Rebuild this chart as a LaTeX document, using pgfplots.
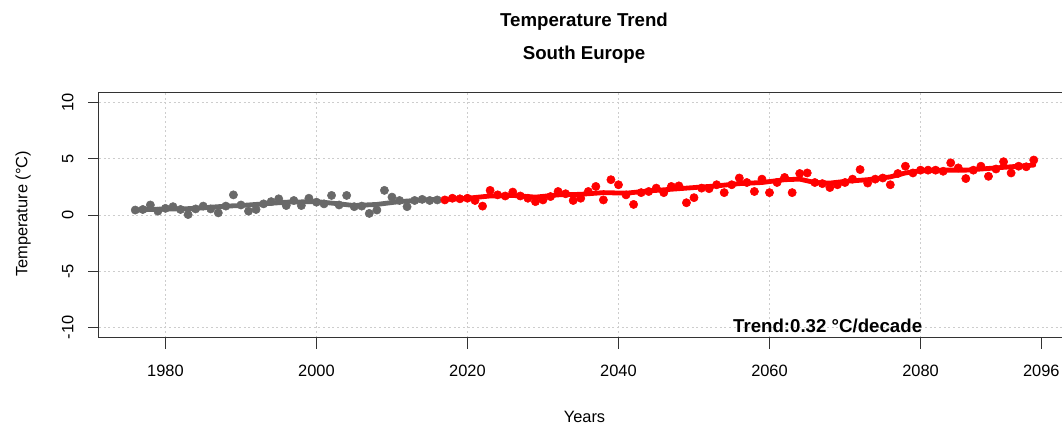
\documentclass[border=0pt]{standalone}
\usepackage{fontspec}
\setmainfont{Liberation Sans}
\usepackage{pgfplots}
\pgfplotsset{compat=1.18}
\definecolor{ptgrey}{RGB}{105,105,105}
\definecolor{gridc}{RGB}{205,205,205}
\begin{document}
\begin{tikzpicture}
\clip (-74.25pt,-65.6pt) rectangle (722.25pt,253.2pt);
\begin{axis}[
  at={(0,0)}, anchor=south west,
  scale only axis, width=728.25pt, height=183.75pt,
  xmin=1971.2, xmax=2099.8, ymin=-10.9, ymax=10.9,
  xtick={1980,2000,...,2080}, extra x ticks={2096}, extra x tick style={grid=none},
  ytick={-10,-5,...,10},
  /pgf/number format/1000 sep={},
  /pgf/number format/assume math mode=true,
  tick align=outside, tick pos=left, major tick length=8.25pt,
  tick style={black!80, line width=0.75pt},
  axis line style={black!80, line width=0.75pt},
  grid=major,
  major grid style={gridc, line width=0.75pt, dash pattern=on 1.5pt off 2pt},
  ticklabel style={font=\fontsize{12.3}{14}\selectfont, inner sep=0pt},
  xticklabel shift=12.4pt,
  yticklabel shift=10.6pt,
  yticklabel style={rotate=90, anchor=south},
  xlabel={Years}, ylabel={Temperature (°C)},
  label style={font=\fontsize{12.3}{14}\selectfont},
  xlabel style={at={(axis description cs:0.5,-0.345)}, anchor=base},
  ylabel style={at={(axis description cs:-0.078,0.505)}, anchor=center, rotate=0},
  clip=false,
]
% smoothed trend band, historical
\addplot[ptgrey, line width=3.6pt, line cap=round, line join=round] coordinates {
(1976,0.45)(1978,0.5)(1980,0.55)(1982,0.55)(1984,0.6)(1986,0.7)(1988,0.8)(1990,0.85)(1993,1.0)(1996,1.15)(2000,1.2)(2003,1.0)(2005,0.85)(2008,0.95)(2011,1.2)(2014,1.35)(2016,1.4)};
% smoothed trend band, projection
\addplot[red, line width=3.6pt, line cap=round, line join=round] coordinates {
(2017,1.4)(2020,1.5)(2023,1.7)(2026,1.75)(2029,1.6)(2032,1.8)(2035,1.85)(2038,2.0)(2041,1.95)(2044,2.15)(2047,2.3)(2050,2.45)(2053,2.6)(2056,2.8)(2059,2.9)(2062,3.15)(2064,3.2)(2066,2.9)(2068,2.85)(2070,3.0)(2073,3.15)(2076,3.4)(2078,3.75)(2080,3.95)(2083,4.0)(2086,4.0)(2089,4.15)(2092,4.3)(2095,4.45)};
% annual points, historical
\addplot[only marks, mark=*, mark size=3.1pt, ptgrey, mark options={draw=ptgrey, fill=ptgrey}] coordinates {
(1976,0.45)(1977,0.5)(1978,0.9)(1979,0.35)(1980,0.6)(1981,0.75)(1982,0.5)(1983,0.05)(1984,0.55)(1985,0.8)
(1986,0.55)(1987,0.2)(1988,0.8)(1989,1.8)(1990,0.9)(1991,0.35)(1992,0.5)(1993,1.0)(1994,1.2)(1995,1.45)
(1996,0.85)(1997,1.3)(1998,0.85)(1999,1.5)(2000,1.15)(2001,1.0)(2002,1.75)(2003,0.9)(2004,1.75)(2005,0.75)
(2006,0.8)(2007,0.15)(2008,0.45)(2009,2.2)(2010,1.6)(2011,1.3)(2012,0.75)(2013,1.3)(2014,1.4)(2015,1.3)(2016,1.35)};
% annual points, projection
\addplot[only marks, mark=*, mark size=3.1pt, red, mark options={draw=red, fill=red}] coordinates {
(2017,1.35)(2018,1.5)(2019,1.45)(2020,1.5)(2021,1.3)(2022,0.8)(2023,2.2)(2024,1.8)(2025,1.7)(2026,2.05)
(2027,1.7)(2028,1.5)(2029,1.2)(2030,1.35)(2031,1.65)(2032,2.1)(2033,1.9)(2034,1.3)(2035,1.5)(2036,2.1)
(2037,2.55)(2038,1.35)(2039,3.15)(2040,2.7)(2041,1.8)(2042,0.95)(2043,2.0)(2044,2.1)(2045,2.4)(2046,2.0)
(2047,2.55)(2048,2.6)(2049,1.1)(2050,1.55)(2051,2.4)(2052,2.35)(2053,2.7)(2054,2.0)(2055,2.7)(2056,3.3)
(2057,2.9)(2058,2.1)(2059,3.2)(2060,2.0)(2061,2.9)(2062,3.35)(2063,2.0)(2064,3.7)(2065,3.75)(2066,2.9)
(2067,2.8)(2068,2.45)(2069,2.7)(2070,2.9)(2071,3.2)(2072,4.05)(2073,2.85)(2074,3.2)(2075,3.3)(2076,2.7)
(2077,3.7)(2078,4.35)(2079,3.75)(2080,4.0)(2081,4.0)(2082,4.0)(2083,3.9)(2084,4.65)(2085,4.2)(2086,3.25)
(2087,4.0)(2088,4.35)(2089,3.45)(2090,4.1)(2091,4.75)(2092,3.75)(2093,4.35)(2094,4.3)(2095,4.9)};
\node[anchor=base, inner sep=0pt, font=\fontsize{14}{16}\selectfont\bfseries] at (axis cs:2067.7,-10.41) {Trend:0.32 °C/decade};
\end{axis}
\node[anchor=base, inner sep=0pt, font=\fontsize{14}{16}\selectfont\bfseries] at (363.75pt,233.2pt) {Temperature Trend};
\node[anchor=base, inner sep=0pt, font=\fontsize{14}{16}\selectfont\bfseries] at (363.75pt,208.2pt) {South Europe};
\end{tikzpicture}
\end{document}
